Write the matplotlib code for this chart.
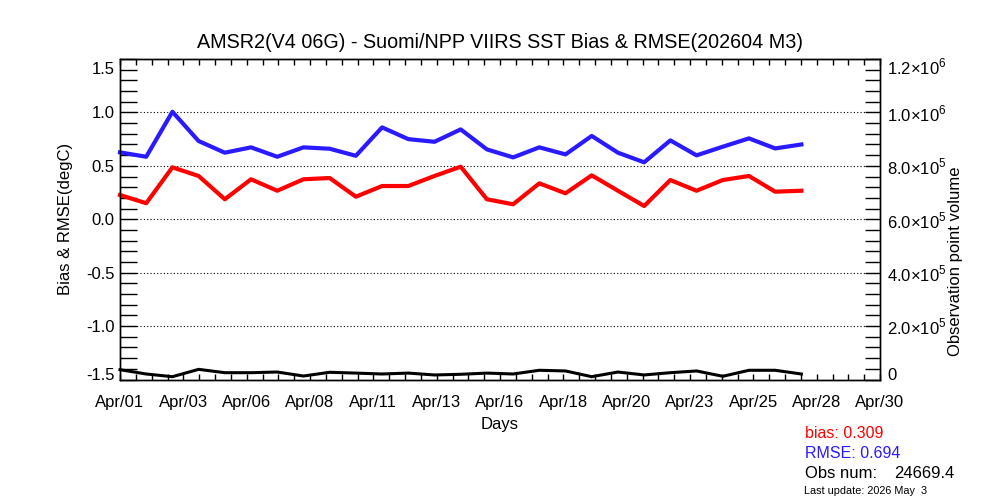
import numpy as np
import matplotlib.pyplot as plt
from matplotlib.ticker import MultipleLocator, FixedLocator
from matplotlib.transforms import ScaledTranslation

plt.rcParams['font.family'] = ['Liberation Sans', 'DejaVu Sans']
plt.rcParams['mathtext.fontset'] = 'custom'
plt.rcParams['mathtext.rm'] = 'Liberation Sans'

days = np.arange(1, 28)
rmse = [0.626, 0.585, 1.006, 0.732, 0.623, 0.673, 0.585, 0.673, 0.660, 0.594,
        0.860, 0.750, 0.725, 0.841, 0.654, 0.579, 0.673, 0.607, 0.780, 0.623,
        0.533, 0.738, 0.598, 0.679, 0.757, 0.663, 0.700]
bias = [0.227, 0.150, 0.486, 0.405, 0.187, 0.374, 0.267, 0.374, 0.386, 0.211,
        0.311, 0.311, 0.405, 0.492, 0.187, 0.140, 0.336, 0.243, 0.411, 0.267,
        0.124, 0.367, 0.267, 0.367, 0.405, 0.258, 0.267]
obs = [36750, 20600, 10500, 38000, 25500, 25500, 28000, 13000, 27000, 24000,
       20600, 24000, 17000, 19500, 24000, 20600, 34500, 32000, 10500, 28000,
       17000, 25500, 32000, 12000, 34500, 34500, 20600]

xtick_labels = ['Apr/01', 'Apr/03', 'Apr/06', 'Apr/08', 'Apr/11', 'Apr/13', 'Apr/16',
                'Apr/18', 'Apr/20', 'Apr/23', 'Apr/25', 'Apr/28', 'Apr/30']
ytick_left = [-1.5, -1.0, -0.5, 0.0, 0.5, 1.0, 1.5]
ytick_right = [0, 2e5, 4e5, 6e5, 8e5, 1e6, 1.2e6]
ytick_right_labels = ['0', r'2.0$\times$10$^{5}$', r'4.0$\times$10$^{5}$', r'6.0$\times$10$^{5}$',
                      r'8.0$\times$10$^{5}$', r'1.0$\times$10$^{6}$', r'1.2$\times$10$^{6}$']

blue = '#2a1aff'

fig = plt.figure(figsize=(10, 5), dpi=100)
ax = fig.add_axes([0.12, 0.241, 0.76, 0.641])

ax.plot(days, rmse, color=blue, lw=3, clip_on=False, zorder=3)
ax.plot(days, bias, color='red', lw=3, clip_on=False, zorder=3)

ax.set_xlim(1, 30)
ax.set_ylim(-1.5, 1.5)

for g in [-1.0, -0.5, 0.0, 0.5, 1.0]:
    ax.axhline(g, color='black', lw=0.8, linestyle=(0, (1, 2)), zorder=1)

xpos = np.linspace(1, 30, 13)
ax.xaxis.set_major_locator(FixedLocator(xpos))
ax.xaxis.set_minor_locator(FixedLocator(np.linspace(1, 30, 49)))
ax.set_xticklabels(xtick_labels)
ax.set_yticks(ytick_left)
ax.set_yticklabels(['%.1f' % v for v in ytick_left])
ax.yaxis.set_minor_locator(MultipleLocator(0.1))

ax.tick_params(axis='x', which='both', direction='in', top=True, length=4,
               width=1, labelsize=12, pad=11)
ax.tick_params(axis='y', which='both', direction='in', right=False, length=12,
               width=1, labelsize=12, pad=4)

ax.set_xlabel('Days', fontsize=12, labelpad=5)
ax.set_ylabel('Bias & RMSE(degC)', fontsize=12)
ax.yaxis.set_label_coords(-0.062, 0.5)
ax.set_title('AMSR2(V4 06G) - Suomi/NPP VIIRS SST Bias & RMSE(202604 M3)',
             fontsize=14.2, pad=8)

ax2 = ax.twinx()
ax2.plot(days, obs, color='black', lw=2.2, clip_on=False, zorder=3)
ax2.set_ylim(0, 1.2e6)
ax2.set_yticks(ytick_right)
ax2.set_yticklabels(ytick_right_labels)
ax2.yaxis.set_minor_locator(MultipleLocator(4e4))
ax2.tick_params(axis='y', which='both', direction='in', length=11, width=1,
                labelsize=12, pad=5)
ax2.set_ylabel('Observation point volume', fontsize=12)
ax2.yaxis.set_label_coords(1.089, 0.37)

for a in (ax, ax2):
    for s in a.spines.values():
        s.set_linewidth(1)

# end labels sit a little inside the axis range, as in the original
lab_l = ax.get_yticklabels()
lab_l[-1].set_transform(lab_l[-1].get_transform() + ScaledTranslation(0, -9 / 100, fig.dpi_scale_trans))
lab_l[0].set_transform(lab_l[0].get_transform() + ScaledTranslation(0, 5 / 100, fig.dpi_scale_trans))
lab_r = ax2.get_yticklabels()
lab_r[-1].set_transform(lab_r[-1].get_transform() + ScaledTranslation(0, -7 / 100, fig.dpi_scale_trans))
lab_r[0].set_transform(lab_r[0].get_transform() + ScaledTranslation(0, 6 / 100, fig.dpi_scale_trans))

fig.text(0.805, 0.132, 'bias: 0.309', color='red', fontsize=11.5, va='center')
fig.text(0.805, 0.094, 'RMSE: 0.694', color=blue, fontsize=11.5, va='center')
fig.text(0.805, 0.054, 'Obs num:', color='black', fontsize=12, va='center')
fig.text(0.894, 0.054, '24669.4', color='black', fontsize=12, va='center')
fig.text(0.804, 0.018, 'Last update: 2026 May  3', color='black', fontsize=7.8, va='center')

fig.savefig('out.png', dpi=100)
